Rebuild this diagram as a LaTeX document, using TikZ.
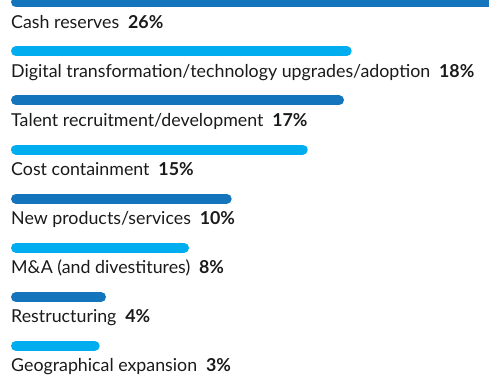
\documentclass[tikz,border=0pt]{standalone}
\usepackage{fontspec}
\setmainfont{Lato}
\definecolor{darkbar}{HTML}{1575BC}
\definecolor{lightbar}{HTML}{00AEEF}
\definecolor{txt}{HTML}{1A1A1A}
\tikzset{
  bar/.style={line width=10pt, line cap=round},
  lbl/.style={anchor=base west, inner sep=0pt, text=txt, font=\fontsize{17.8}{20}\selectfont}
}
\newcommand{\pct}[1]{\hspace{0.5em}\textbf{#1}}
\begin{document}
\begin{tikzpicture}[x=1pt,y=-1pt]
\useasboundingbox (0,0) rectangle (489,375);
\draw[bar,darkbar] (16,2.3) -- (520,2.3);
\draw[bar,lightbar] (16,51.2) -- (346.7,51.2);
\draw[bar,darkbar] (16,100.3) -- (339,100.3);
\draw[bar,lightbar] (16,149.5) -- (302.7,149.5);
\draw[bar,darkbar] (16,198.7) -- (226.7,198.7);
\draw[bar,lightbar] (16,247.7) -- (184,247.7);
\draw[bar,darkbar] (16,297) -- (101,297);
\draw[bar,lightbar] (16,345.7) -- (94.7,345.7);
\node[lbl] (l1) at (11,28.5) {Cash reserves\pct{26\%}};
\node[lbl] (l2) at (11,77.5) {Digital transformation/technology upgrades/adoption\pct{18\%}};
\node[lbl] (l3) at (11,126.5) {Talent recruitment/development\pct{17\%}};
\node[lbl] (l4) at (11,175.5) {Cost containment\pct{15\%}};
\node[lbl] (l5) at (11,224.5) {New products/services\pct{10\%}};
\node[lbl] (l6) at (11,273.5) {M\&A (and divestitures)\pct{8\%}};
\node[lbl] (l7) at (11,322.5) {Restructuring\pct{4\%}};
\node[lbl] (l8) at (11,371.5) {Geographical expansion\pct{3\%}};
\end{tikzpicture}
\end{document}
